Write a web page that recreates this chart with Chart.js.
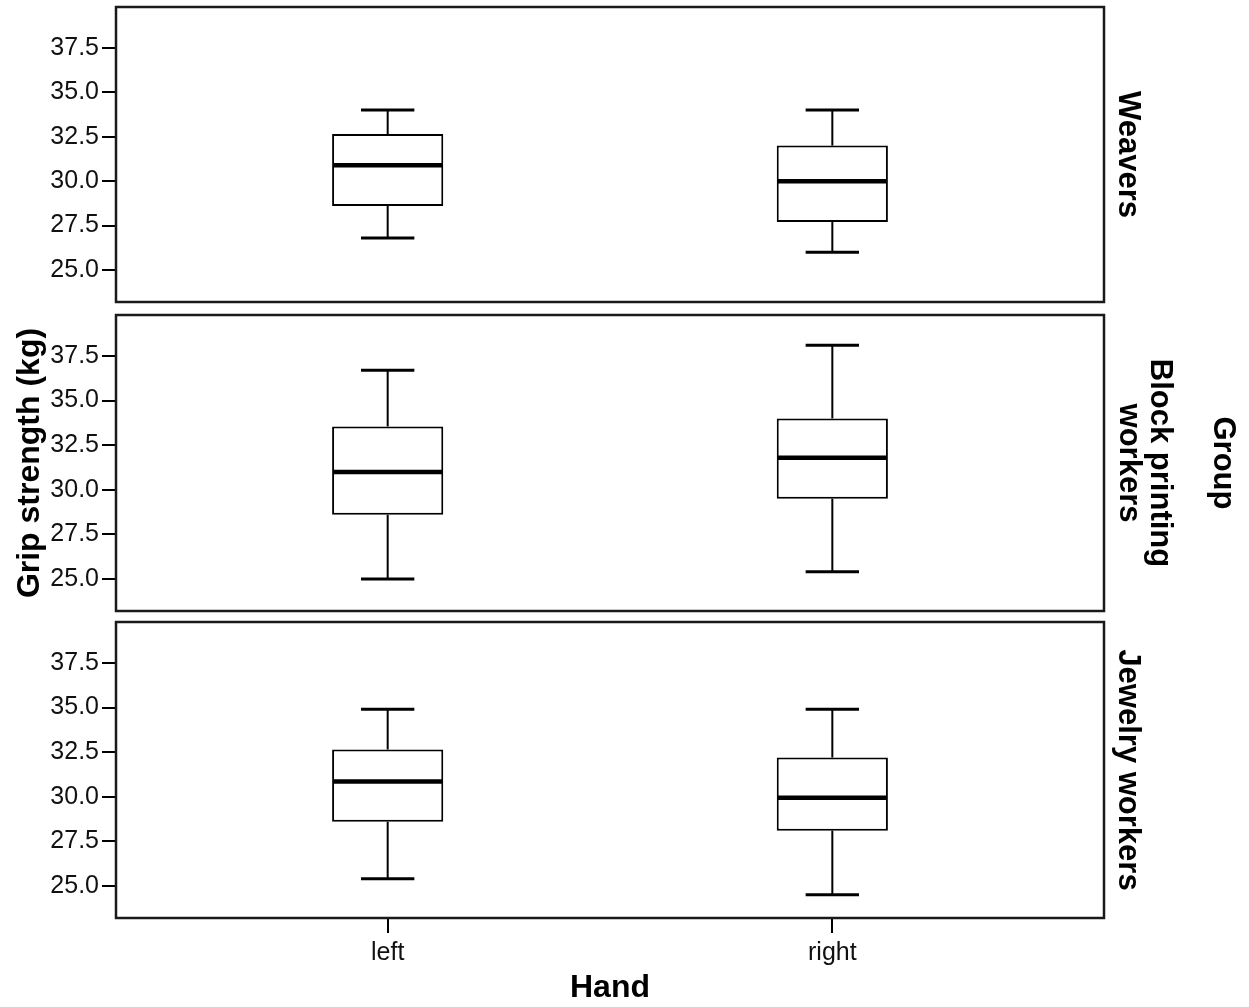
<!DOCTYPE html>
<html>
<head>
<meta charset="utf-8">
<script src="https://cdn.jsdelivr.net/npm/chart.js@4.4.1/dist/chart.umd.min.js"></script>
<style>
  html, body { margin: 0; padding: 0; background: #fff; overflow: hidden; }
  .panel { position: absolute; left: 0; width: 1249px; }
  #p1 { top: 0; height: 310px; }
  #p2 { top: 310px; height: 310px; }
  #p3 { top: 615px; height: 392px; }
</style>
</head>
<body>
<div class="panel" id="p1"><canvas id="c1"></canvas></div>
<div class="panel" id="p2"><canvas id="c2"></canvas></div>
<div class="panel" id="p3"><canvas id="c3"></canvas></div>
<script>
// categories
const hands = ['left', 'right'];
const groups = ['Weavers', ['Block printing', 'workers'], 'Jewelry workers'];
const yTicks = [25, 27.5, 30, 32.5, 35, 37.5];

// box plot values, one row per group, [left, right]
const whiskerLow  = [[26.8, 26.0], [25.0, 25.4], [25.4, 24.5]];
const q1          = [[28.6, 27.7], [28.6, 29.5], [28.6, 28.1]];
const median      = [[30.9, 30.0], [31.0, 31.8], [30.85, 29.95]];
const q3          = [[32.65, 32.0], [33.55, 34.0], [32.65, 32.2]];
const whiskerHigh = [[34.0, 34.0], [36.7, 38.1], [34.9, 34.9]];

const capWidth = 0.12; // in x units

Chart.defaults.font.family = '"Liberation Sans", Arial, sans-serif';
Chart.defaults.color = '#111';

const frame = {
    id: 'frame',
    afterDraw(chart) {
        const { ctx, chartArea: a } = chart;
        ctx.save();
        ctx.strokeStyle = '#1a1a1a';
        ctx.lineWidth = 2.5;
        ctx.strokeRect(a.left, a.top, a.right - a.left, a.bottom - a.top);
        ctx.restore();
    }
};

function whiskerPlugin(g) {
    return {
        id: 'whiskers',
        afterDatasetsDraw(chart) {
            const { ctx, scales: { x, y } } = chart;
            const bars = chart.getDatasetMeta(0).data;
            const seg = (x0, y0, x1, y1) => {
                ctx.beginPath();
                ctx.moveTo(x0, y0);
                ctx.lineTo(x1, y1);
                ctx.stroke();
            };
            ctx.save();
            ctx.strokeStyle = '#000';
            hands.forEach((h, i) => {
                const cx = x.getPixelForValue(i);
                const capL = x.getPixelForValue(i - capWidth / 2);
                const capR = x.getPixelForValue(i + capWidth / 2);
                const half = bars[i].width / 2 - 1;
                const yLo = y.getPixelForValue(whiskerLow[g][i]);
                const yHi = y.getPixelForValue(whiskerHigh[g][i]);
                ctx.lineWidth = 2;
                seg(cx, yLo, cx, y.getPixelForValue(q1[g][i]));
                seg(cx, y.getPixelForValue(q3[g][i]), cx, yHi);
                ctx.lineWidth = 3;
                seg(capL, yLo, capR, yLo);
                seg(capL, yHi, capR, yHi);
                ctx.lineWidth = 4.5;
                const ym = y.getPixelForValue(median[g][i]);
                seg(cx - half, ym, cx + half, ym);
            });
            ctx.restore();
        }
    };
}

// no extra room for half tick labels, the layout padding decides
function noPad(s) {
    s.paddingTop = 0;
    s.paddingBottom = 0;
    s.paddingLeft = 0;
    s.paddingRight = 0;
}

function sideAxis(text, width, pad, weight) {
    return {
        type: 'linear',
        position: 'right',
        weight: weight,
        ticks: { display: false },
        grid: { display: false },
        border: { display: false },
        afterFit: s => { s.width = width; noPad(s); },
        title: {
            display: true,
            text: text,
            color: '#000',
            font: { size: 31, weight: 'bold', lineHeight: 1 },
            padding: { top: pad, bottom: 0 }
        }
    };
}

function makePanel(canvasId, g, padding) {
    const bottom = g === 2;
    const scales = {
        x: {
            type: 'linear',
            min: -0.611,
            max: 1.611,
            offset: false,
            display: bottom,
            afterBuildTicks: s => { s.ticks = hands.map((h, i) => ({ value: i })); },
            afterFit: s => {
                if (bottom) s.height = 89;
                noPad(s);
            },
            ticks: {
                callback: v => hands[v],
                font: { size: 25 },
                color: '#111',
                padding: 5,
                maxRotation: 0
            },
            grid: { offset: false, drawOnChartArea: false, tickLength: 15, color: '#000', lineWidth: 2 },
            border: { display: false },
            title: {
                display: true,
                text: 'Hand',
                color: '#000',
                font: { size: 32, weight: 'bold' },
                padding: { top: 0, bottom: 0 }
            }
        },
        y: {
            type: 'linear',
            position: 'left',
            min: 23.2,
            max: 39.8,
            afterBuildTicks: s => { s.ticks = yTicks.map(v => ({ value: v })); },
            afterFit: s => { s.width = 116; noPad(s); },
            ticks: {
                callback: v => v.toFixed(1),
                font: { size: 25 },
                color: '#111',
                padding: 3
            },
            grid: { drawOnChartArea: false, tickLength: 14, color: '#000', lineWidth: 2 },
            border: { display: false },
            title: {
                display: g === 1,
                text: 'Grip strength (kg)',
                color: '#000',
                font: { size: 32, weight: 'bold', lineHeight: 1 },
                padding: { top: 14, bottom: 0 }
            }
        }
    };
    if (g === 1) {
        scales.side = sideAxis(groups[g], 90, 19, 0);
        scales.group = sideAxis('Group', 55, 11, 1);
    } else {
        scales.side = sideAxis(groups[g], 145, 106, 0);
    }

    return new Chart(document.getElementById(canvasId), {
        type: 'bar',
        data: {
            datasets: [{
                data: hands.map((h, i) => ({ x: i, y: [q1[g][i], q3[g][i]] })),
                backgroundColor: '#fff',
                borderColor: '#000',
                borderWidth: 2,
                borderSkipped: false,
                categoryPercentage: 1,
                barPercentage: 0.25
            }]
        },
        options: {
            responsive: true,
            maintainAspectRatio: false,
            animation: false,
            layout: { padding: padding },
            plugins: {
                legend: { display: false },
                tooltip: { enabled: false }
            },
            scales: scales
        },
        plugins: [whiskerPlugin(g), frame]
    });
}

makePanel('c1', 0, { top: 7, bottom: 8, left: 0, right: 0 });
makePanel('c2', 1, { top: 5, bottom: 9, left: 0, right: 0 });
makePanel('c3', 2, { top: 7, bottom: 0, left: 0, right: 0 });
</script>
</body>
</html>
